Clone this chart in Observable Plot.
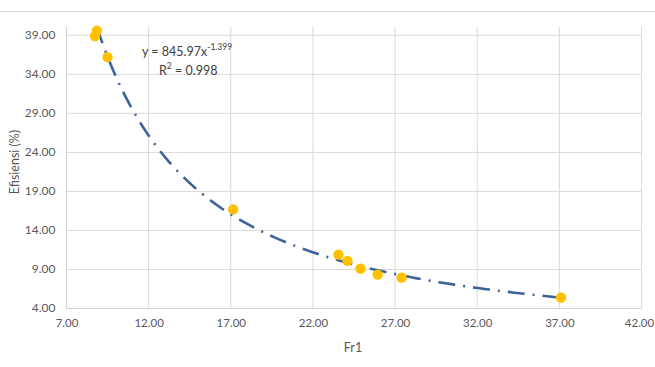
<!DOCTYPE html>
<html>
<head>
<meta charset="utf-8">
<script src="https://cdn.jsdelivr.net/npm/d3@7"></script>
<script src="https://cdn.jsdelivr.net/npm/@observablehq/plot@0.6"></script>
<style>
  html, body { margin: 0; padding: 0; background: #fff; }
  #wrap { position: relative; width: 655px; height: 367px; font-family: Lato, "Open Sans", sans-serif; }
  #wrap svg { position: absolute; left: 0; top: 0; }
  .topline { position: absolute; left: 0; top: 11px; width: 655px; height: 1px; background: #d9d9d9; }
  .ann { position: absolute; color: #404040; font-size: 12.5px; line-height: 1; white-space: nowrap; }
  .ann sup { font-size: 8.5px; position: relative; top: -1px; }
  .ytitle { position: absolute; left: 14px; top: 162px; transform: translate(-50%, -50%) rotate(-90deg); color: #595959; font-size: 12.5px; white-space: nowrap; }
  .xtitle { position: absolute; left: 353px; top: 347px; transform: translate(-50%, -50%); color: #595959; font-size: 12.5px; }
</style>
</head>
<body>
<div id="wrap">
  <div class="topline"></div>
</div>
<script>
// Data
const fr1 =       [8.85, 8.73, 9.50, 17.14, 23.55, 24.10, 24.90, 25.94, 27.40, 37.10];
const efisiensi = [39.6, 38.9, 36.2, 16.7, 10.9, 10.1, 9.1, 8.34, 7.96, 5.4];
const xTicks = [7, 12, 17, 22, 27, 32, 37, 42];
const yTicks = [4, 9, 14, 19, 24, 29, 34, 39];
// Trendline coefficients shown on the chart: y = 845.97 x^-1.399
const coefA = 845.97;
const coefB = -1.399;
const trendFrom = 8.85;
const trendTo = 37.10;

const points = fr1.map((x, i) => ({x, y: efisiensi[i]}));
const trend = d3.range(0, 201).map(i => {
  const x = trendFrom + (trendTo - trendFrom) * i / 200;
  return {x, y: coefA * Math.pow(x, coefB)};
});

const fmt = d3.format(".2f");
const xAxisStyle = {tickSize: 0, tickPadding: 10, tickFormat: fmt, label: null, fill: "#595959", fontSize: 11.5};
const chart = Plot.plot({
  width: 655,
  height: 367,
  marginLeft: 66,
  marginRight: 14,
  marginTop: 27,
  marginBottom: 59,
  style: {fontFamily: "Lato, 'Open Sans', sans-serif", fontSize: "12px", background: "transparent"},
  x: {domain: [7, 42]},
  y: {domain: [4, 40]},
  marks: [
    Plot.gridX(xTicks, {stroke: "#d9d9d9", strokeOpacity: 1, strokeWidth: 1}),
    Plot.gridY(yTicks.slice(1), {stroke: "#d9d9d9", strokeOpacity: 1, strokeWidth: 1}),
    Plot.ruleY([4], {stroke: "#d0d0d0", strokeWidth: 1}),
    Plot.ruleX([7], {stroke: "#d0d0d0", strokeWidth: 1}),
    Plot.axisX(xTicks.slice(0, -1), {...xAxisStyle, dx: 0.5}),
    Plot.axisX(xTicks.slice(-1), {...xAxisStyle, dx: -2}),
    Plot.axisY(yTicks, {tickSize: 0, tickPadding: 11, tickFormat: fmt, label: null, fill: "#595959", fontSize: 12}),
    Plot.line(trend, {x: "x", y: "y", stroke: "#3d6397", strokeWidth: 2.6, strokeDasharray: "17,8,2,8", strokeLinecap: "butt"}),
    Plot.dot(points, {x: "x", y: "y", r: 5.2, fill: "#FFC000", stroke: "none"})
  ]
});
const wrap = document.getElementById("wrap");
wrap.appendChild(chart);

function addDiv(cls, html, left, top) {
  const d = document.createElement("div");
  d.className = cls;
  d.innerHTML = html;
  if (left != null) d.style.left = left + "px";
  if (top != null) d.style.top = top + "px";
  wrap.appendChild(d);
}
addDiv("ann", "y = 845.97x<sup>-1.399</sup>", 142, 44);
addDiv("ann", "R<sup>2</sup> = 0.998", 159, 63);
addDiv("ytitle", "Efisiensi (%)");
addDiv("xtitle", "Fr1");
</script>
</body>
</html>
